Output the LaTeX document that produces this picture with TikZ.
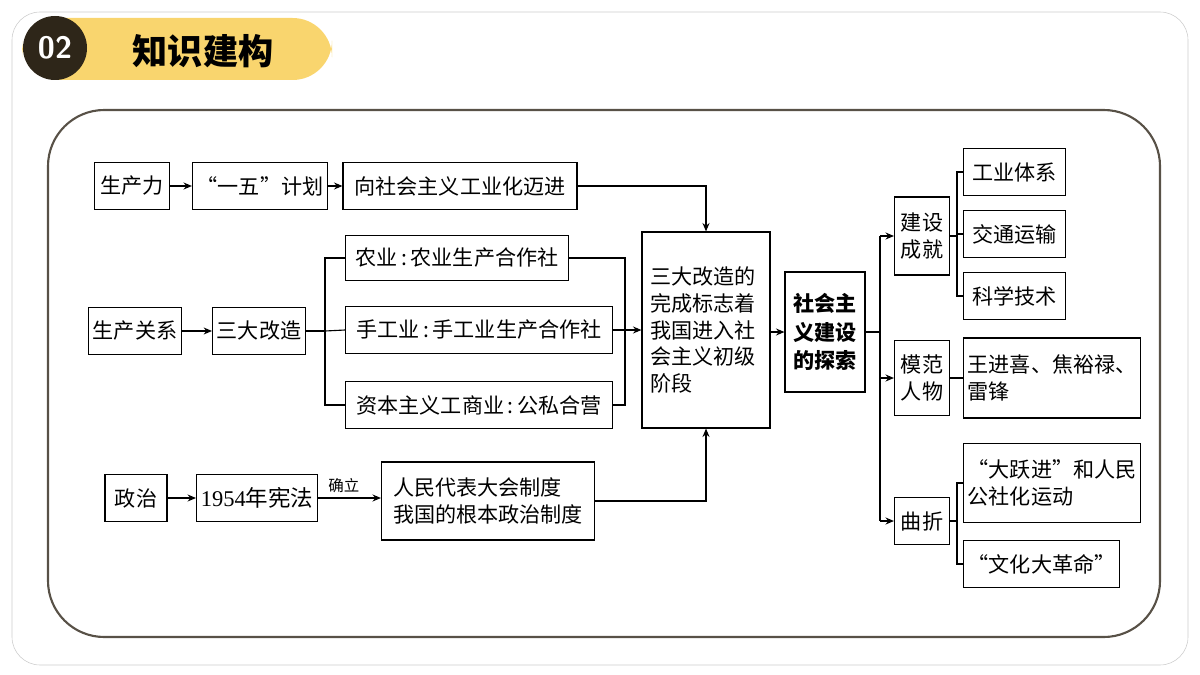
\documentclass[tikz,border=0pt]{standalone}
\usepackage{fontspec}
\setmainfont{Liberation Serif}
\newfontfamily\cjk{Noto Sans CJK SC}
\usetikzlibrary{arrows.meta,positioning}
\definecolor{headyellow}{HTML}{F9D56E}
\definecolor{headdark}{HTML}{2E2619}
\begin{document}
\begin{tikzpicture}[x=0.025cm,y=-0.025cm,
  box/.style={draw=black, thick, inner sep=3pt, align=left, font=\cjk\fontsize{15}{19}\selectfont},
  arr/.style={thick, -{Stealth[length=6pt,width=5pt]}},
  ln/.style={thick}]
  \useasboundingbox (0,0) rectangle (1200,675);
  % frames
  \draw[gray!40, rounded corners=20] (12,12) rectangle (1188,665);
  \fill[headyellow, rounded corners=28] (22,18) rectangle (332,80);
  \fill[headdark] (55,48) circle (32);
  \node[text=white, font=\sffamily\bfseries\fontsize{22}{22}\selectfont] (num) at (55,48) {02};
  \node[font=\cjk\bfseries\fontsize{25}{25}\selectfont] (title) at (203,51) {知识建构};
  \draw[headdark!80, line width=1.5pt, rounded corners=40] (48,110) rectangle (1160,637);

  % left column
  \node[box, minimum width=75*0.025cm, minimum height=47*0.025cm] (scl) at (132,186) {生产力};
  \node[box, minimum width=120*0.025cm, minimum height=47*0.025cm] (ywjh) at (260,186) {“一五”计划};
  \node[box, minimum width=234*0.025cm, minimum height=47*0.025cm] (gyh) at (460,186) {向社会主义工业化迈进};
  \node[box, minimum height=47*0.025cm] (scgx) at (135,331) {生产关系};
  \node[box, minimum height=47*0.025cm] (sdgz) at (259,331) {三大改造};
  \node[box, minimum width=223*0.025cm, minimum height=45*0.025cm, anchor=west] (ny) at (345,258) {农业\,:\,农业生产合作社};
  \node[box, minimum width=267*0.025cm, minimum height=47*0.025cm, anchor=west] (sgy) at (345,330) {手工业\,:\,手工业生产合作社};
  \node[box, minimum width=267*0.025cm, minimum height=47*0.025cm, anchor=west] (zbzy) at (345,405) {资本主义工商业\,:\,公私合营};
  \node[box, minimum width=62*0.025cm, minimum height=47*0.025cm] (zz) at (136,498) {政治};
  \node[box, minimum width=115*0.025cm, minimum height=47*0.025cm, font=\fontsize{16}{19}\selectfont] (xf) at (257,498) {1954\cjk 年宪法};
  \node[box, minimum width=213*0.025cm, minimum height=78*0.025cm, inner sep=5pt] (rd) at (488,501) {人民代表大会制度\\我国的根本政治制度};

  % middle
  \node[box, minimum width=128*0.025cm, minimum height=196*0.025cm, align=left, text width=112*0.025cm] (wcbz) at (706,330) {三大改造的\\完成标志着\\我国进入社\\会主义初级\\阶段};
  \node[box, font=\cjk\bfseries\fontsize{15}{20}\selectfont, minimum width=80*0.025cm, minimum height=120*0.025cm] (tans) at (825,332) {社会主\\义建设\\的探索};

  % right
  \node[box, minimum width=55*0.025cm, minimum height=78*0.025cm] (jscj) at (922,236) {建设\\成就};
  \node[box, minimum width=55*0.025cm, minimum height=75*0.025cm] (mfrw) at (922,378) {模范\\人物};
  \node[box, minimum width=55*0.025cm, minimum height=47*0.025cm] (qz) at (922,521) {曲折};
  \node[box, minimum width=102*0.025cm, minimum height=47*0.025cm, anchor=west] (gytx) at (963,172) {工业体系};
  \node[box, minimum width=102*0.025cm, minimum height=47*0.025cm, anchor=west] (jtys) at (963,234) {交通运输};
  \node[box, minimum width=102*0.025cm, minimum height=47*0.025cm, anchor=west] (kxjs) at (963,296) {科学技术};
  \node[box, minimum width=165*0.025cm, minimum height=80*0.025cm, anchor=west] (wjx) at (963,378) {王进喜、焦裕禄、\\雷锋};
  \node[box, minimum width=165*0.025cm, minimum height=79*0.025cm, anchor=west] (dyj) at (963,483) {“大跃进”和人民\\公社化运动};
  \node[box, minimum height=47*0.025cm, anchor=west] (whdgm) at (963,564) {“文化大革命”};

  % connectors
  \draw[arr] (scl) -- (ywjh);
  \draw[arr] (ywjh) -- (gyh);
  \draw[arr] (gyh.east) -| (wcbz.north);
  \draw[arr] (scgx) -- (sdgz);
  \draw[ln] (sdgz.east) -- (325,331);
  \draw[ln] (ny.west) -| (325,405) -- (zbzy.west);
  \draw[ln] (325,331) -- (sgy.west);
  \draw[ln] (ny.east) -| (625,405) -- (zbzy.east);
  \draw[arr] (sgy.east) -- (wcbz.west |- sgy.east);
  \draw[arr] (zz) -- (xf);
  \draw[arr] (xf) -- node[above, font=\cjk\fontsize{11}{11}\selectfont, xshift=-4pt] (qlab) {确立} (rd.west |- xf);
  \draw[arr] (rd.east) -| (wcbz.south);
  \draw[arr] (wcbz.east |- tans) -- (tans);
  \draw[ln] (tans.east) -- (880,332);
  \draw[ln] (880,236) -- (880,521);
  \draw[arr] (880,236) -- (jscj);
  \draw[arr] (880,378) -- (mfrw);
  \draw[arr] (880,521) -- (qz);
  \draw[ln] (jscj.east) -- (957,236);
  \draw[ln] (gytx.west) -| (957,296) -- (kxjs.west);
  \draw[ln] (957,234) -- (jtys.west);
  \draw[ln] (mfrw) -- (wjx);
  \draw[ln] (qz.east) -- (957,521);
  \draw[ln] (dyj.west) -| (957,564) -- (whdgm.west);
\end{tikzpicture}
\end{document}
